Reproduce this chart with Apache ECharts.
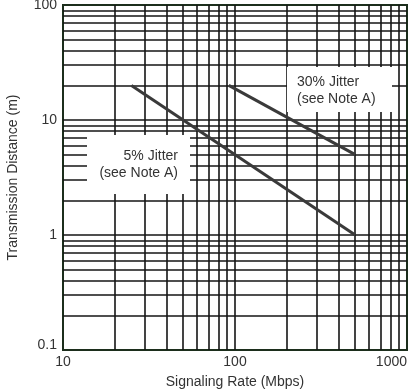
<!DOCTYPE html>
<html>
<head>
<meta charset="utf-8">
<script src="https://cdn.jsdelivr.net/npm/echarts@6/dist/echarts.min.js"></script>
<style>html,body{margin:0;padding:0;background:#fff;}#c{width:418px;height:392px;}</style>
</head>
<body>
<div id="c"></div>
<script>
const xTicks = [10, 100, 1000];
const yTicks = [0.1, 1, 10, 100];
const xGrid = [20,30,40,50,60,70,80,90,100,200,300,400,500,600,700,800,900];
const yGrid = [0.2,0.3,0.4,0.5,0.6,0.7,0.8,0.9,1,2,3,4,5,6,7,8,9,10,20,30,40,50,60,70,80,90];
const jitter5 = [[25, 20], [500, 1]];
const jitter30 = [[92, 20], [500, 5]];
const note5 = ['5% Jitter', '(see Note A)'];
const note30 = ['30% Jitter', '(see Note A)'];

const chart = echarts.init(document.getElementById('c'), null, {renderer: 'canvas'});
const font = '"Liberation Sans", Arial, sans-serif';
const fs = 14;
const gridLine = {color: '#151515', width: 1.6, type: 'solid'};
chart.setOption({
  animation: false,
  backgroundColor: '#fff',
  grid: {left: 63, right: 11, top: 5, bottom: 42, show: true, borderColor: '#1c2e1c', borderWidth: 2,
    backgroundColor: 'transparent', containLabel: false, outerBoundsMode: 'none'},
  xAxis: {
    type: 'log', logBase: 10, min: 10, max: 1000,
    name: 'Signaling Rate (Mbps)', nameLocation: 'middle', nameGap: 25,
    nameTextStyle: {color: '#333', fontSize: fs, fontFamily: font},
    axisLine: {show: false}, axisTick: {show: false}, splitLine: {show: false},
    axisLabel: {color: '#333', fontSize: fs, fontFamily: font, margin: 5, alignMaxLabel: 'right',
      formatter: v => xTicks.includes(Math.round(v)) ? String(Math.round(v)) : ''}
  },
  yAxis: {
    type: 'log', logBase: 10, min: 0.1, max: 100,
    name: 'Transmission Distance (m)', nameLocation: 'middle', nameGap: 43,
    nameTextStyle: {color: '#333', fontSize: fs, fontFamily: font},
    axisLine: {show: false}, axisTick: {show: false}, splitLine: {show: false},
    axisLabel: {color: '#333', fontSize: fs, fontFamily: font, margin: 6,
      rich: {lo: {fontSize: fs, fontFamily: font, color: '#333', padding: [0, 0, 10, 0]}},
      formatter: v => {
        const t = yTicks.find(k => Math.abs(k - v) / k < 1e-6);
        if (t === undefined) return '';
        return t === yTicks[0] ? '{lo|' + t + '}' : String(t);
      }}
  },
  series: [
    {
      type: 'line', data: [], z: 1, silent: true,
      markLine: {
        silent: true, symbol: ['none', 'none'], label: {show: false},
        lineStyle: gridLine, animation: false,
        data: xGrid.map(v => ({xAxis: v})).concat(yGrid.map(v => ({yAxis: v})))
      }
    },
    {type: 'line', data: jitter5, z: 5, symbol: 'none', lineStyle: {color: '#3a3a3a', width: 3}},
    {type: 'line', data: jitter30, z: 5, symbol: 'none', lineStyle: {color: '#3a3a3a', width: 3}}
  ],
  graphic: [
    {type: 'rect', shape: {x: 87, y: 135, width: 103, height: 59}, style: {fill: '#fff'}, z: 10},
    {type: 'text', x: 178, y: 156, style: {text: note5[0], fill: '#333', font: fs + 'px ' + font, textAlign: 'right', textVerticalAlign: 'middle'}, z: 11},
    {type: 'text', x: 178, y: 173, style: {text: note5[1], fill: '#333', font: fs + 'px ' + font, textAlign: 'right', textVerticalAlign: 'middle'}, z: 11},
    {type: 'rect', shape: {x: 287, y: 67, width: 105, height: 45}, style: {fill: '#fff'}, z: 10},
    {type: 'text', x: 297, y: 82, style: {text: note30[0], fill: '#333', font: fs + 'px ' + font, textAlign: 'left', textVerticalAlign: 'middle'}, z: 11},
    {type: 'text', x: 297, y: 99, style: {text: note30[1], fill: '#333', font: fs + 'px ' + font, textAlign: 'left', textVerticalAlign: 'middle'}, z: 11}
  ]
});
</script>
</body>
</html>
